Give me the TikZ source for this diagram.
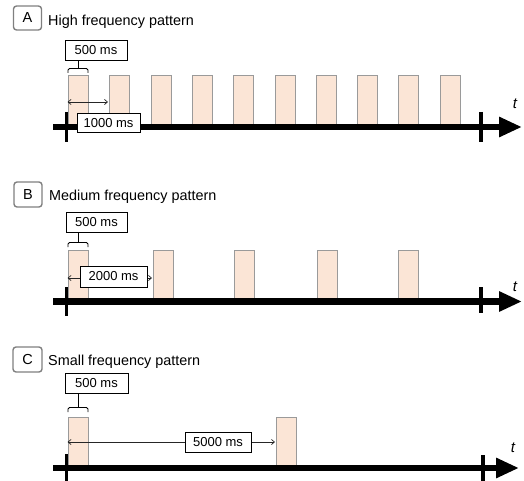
\documentclass[tikz,border=0pt]{standalone}
\usepackage{fontspec}
\setmainfont{Liberation Sans}
\usetikzlibrary{arrows.meta}
\definecolor{pulsefill}{HTML}{FBE5D6}
\definecolor{pulseline}{HTML}{9A9A9A}
\definecolor{letterline}{HTML}{808080}
\tikzset{
  letterbox/.style={draw=letterline, line width=1.4pt, rounded corners=3pt, minimum width=28pt, minimum height=24pt, inner sep=0pt, font=\fontsize{14.5}{16}\selectfont},
  title/.style={anchor=base west, inner sep=0pt, font=\fontsize{14.4}{16}\selectfont},
  msbox/.style={draw=black, fill=white, line width=0.8pt, inner sep=0pt, font=\fontsize{13}{15}\selectfont},
  pulse/.style={draw=pulseline, fill=pulsefill, line width=0.8pt, minimum width=20pt, inner sep=0pt, anchor=north west},
  axis/.style={line width=6.5pt, -{Triangle[length=23pt,width=19pt]}},
  tick/.style={line width=3.5pt},
  dim/.style={line width=0.7pt, draw=black!85, {Straight Barb[length=3pt,width=5pt]}-{Straight Barb[length=3pt,width=5pt]}},
  brace/.style={line width=0.9pt, rounded corners=1.5pt},
  tlabel/.style={font=\fontsize{15}{16}\selectfont\itshape, inner sep=0pt}
}
\begin{document}
\begin{tikzpicture}[x=1pt,y=-1pt]
\useasboundingbox (0,0) rectangle (524,481);

%% ---------------- Panel A ----------------
\node[letterbox] (lA) at (27.5,18) {A};
\node[title] (tA) at (48,25.7) {High frequency pattern};
\foreach \i in {0,...,9} {
  \node[pulse, minimum height=49pt] (pA\i) at ({68+41.3*\i},75) {};
}
\coordinate (aA0) at (53,127);
\coordinate (aA1) at (522,127);
\draw[axis] (aA0) -- (aA1);
\coordinate (sA0) at (66.5,112); \coordinate (sA1) at (66.5,142);
\coordinate (eA0) at (481,112); \coordinate (eA1) at (481,142);
\draw[tick] (sA0) -- (sA1);
\draw[tick] (eA0) -- (eA1);
\node[tlabel] (tlA) at (515,104) {t};
\node[msbox, minimum width=62pt, minimum height=20pt] (bA) at (96,50) {500 ms};
\coordinate (brA) at (78,68.5);
\draw[brace] (68,73) -- (68,68.5) -- (88,68.5) -- (88,73);
\draw[line width=0.9pt] (bA.south -| brA) -- (brA);
\coordinate (dA0) at (67.5,102);
\coordinate (dA1) at (108,102);
\draw[dim] (dA0) -- (dA1);
\node[msbox, minimum width=63pt, minimum height=19pt] (kA) at (108.5,123) {1000 ms};

%% ---------------- Panel B ----------------
\node[letterbox, minimum height=25pt] (lB) at (28,194.5) {B};
\node[title] (tB) at (49,200.7) {Medium frequency pattern};
\foreach \i/\x in {0/68,1/153,2/233.5,3/317,4/398} {
  \node[pulse, minimum height=49pt] (pB\i) at (\x,250) {};
}
\coordinate (aB0) at (53,301.5);
\coordinate (aB1) at (522,301.5);
\draw[axis] (aB0) -- (aB1);
\coordinate (sB0) at (66.5,287); \coordinate (sB1) at (66.5,316);
\coordinate (eB0) at (481,287); \coordinate (eB1) at (481,313);
\draw[tick] (sB0) -- (sB1);
\draw[tick] (eB0) -- (eB1);
\node[tlabel] (tlB) at (515,287) {t};
\node[msbox, minimum width=61pt, minimum height=20pt] (bB) at (96.5,222) {500 ms};
\coordinate (brB) at (78,242.5);
\draw[brace] (68,247) -- (68,242.5) -- (88,242.5) -- (88,247);
\draw[line width=0.9pt] (bB.south -| brB) -- (brB);
\coordinate (dB0) at (67.5,278);
\coordinate (dB1) at (152,278);
\draw[dim] (dB0) -- (dB1);
\node[msbox, minimum width=67pt, minimum height=21pt] (kB) at (113.5,276.5) {2000 ms};

%% ---------------- Panel C ----------------
\node[letterbox, minimum width=29pt, minimum height=25pt] (lC) at (27.5,359.5) {C};
\node[title] (tC) at (48,365) {Small frequency pattern};
\node[pulse, minimum width=19.5pt, minimum height=50pt] (pC0) at (68,417) {};
\node[pulse, minimum width=20pt, minimum height=50pt] (pC1) at (275.5,417) {};
\coordinate (aC0) at (53,468);
\coordinate (aC1) at (519,468);
\draw[axis] (aC0) -- (aC1);
\coordinate (sC0) at (66.5,454); \coordinate (sC1) at (66.5,481);
\coordinate (eC0) at (483,455); \coordinate (eC1) at (483,481);
\draw[tick] (sC0) -- (sC1);
\draw[tick] (eC0) -- (eC1);
\node[tlabel] (tlC) at (513,448) {t};
\node[msbox, minimum width=63pt, minimum height=20pt] (bC) at (96.5,383) {500 ms};
\coordinate (brC) at (78,407.5);
\draw[brace] (68,412) -- (68,407.5) -- (88,407.5) -- (88,412);
\draw[line width=0.9pt] (bC.south -| brC) -- (brC);
\coordinate (dC0) at (67.5,442);
\coordinate (dC1) at (275,442);
\draw[dim] (dC0) -- (dC1);
\node[msbox, minimum width=66pt, minimum height=20pt] (kC) at (218,442) {5000 ms};
\end{tikzpicture}
\end{document}
